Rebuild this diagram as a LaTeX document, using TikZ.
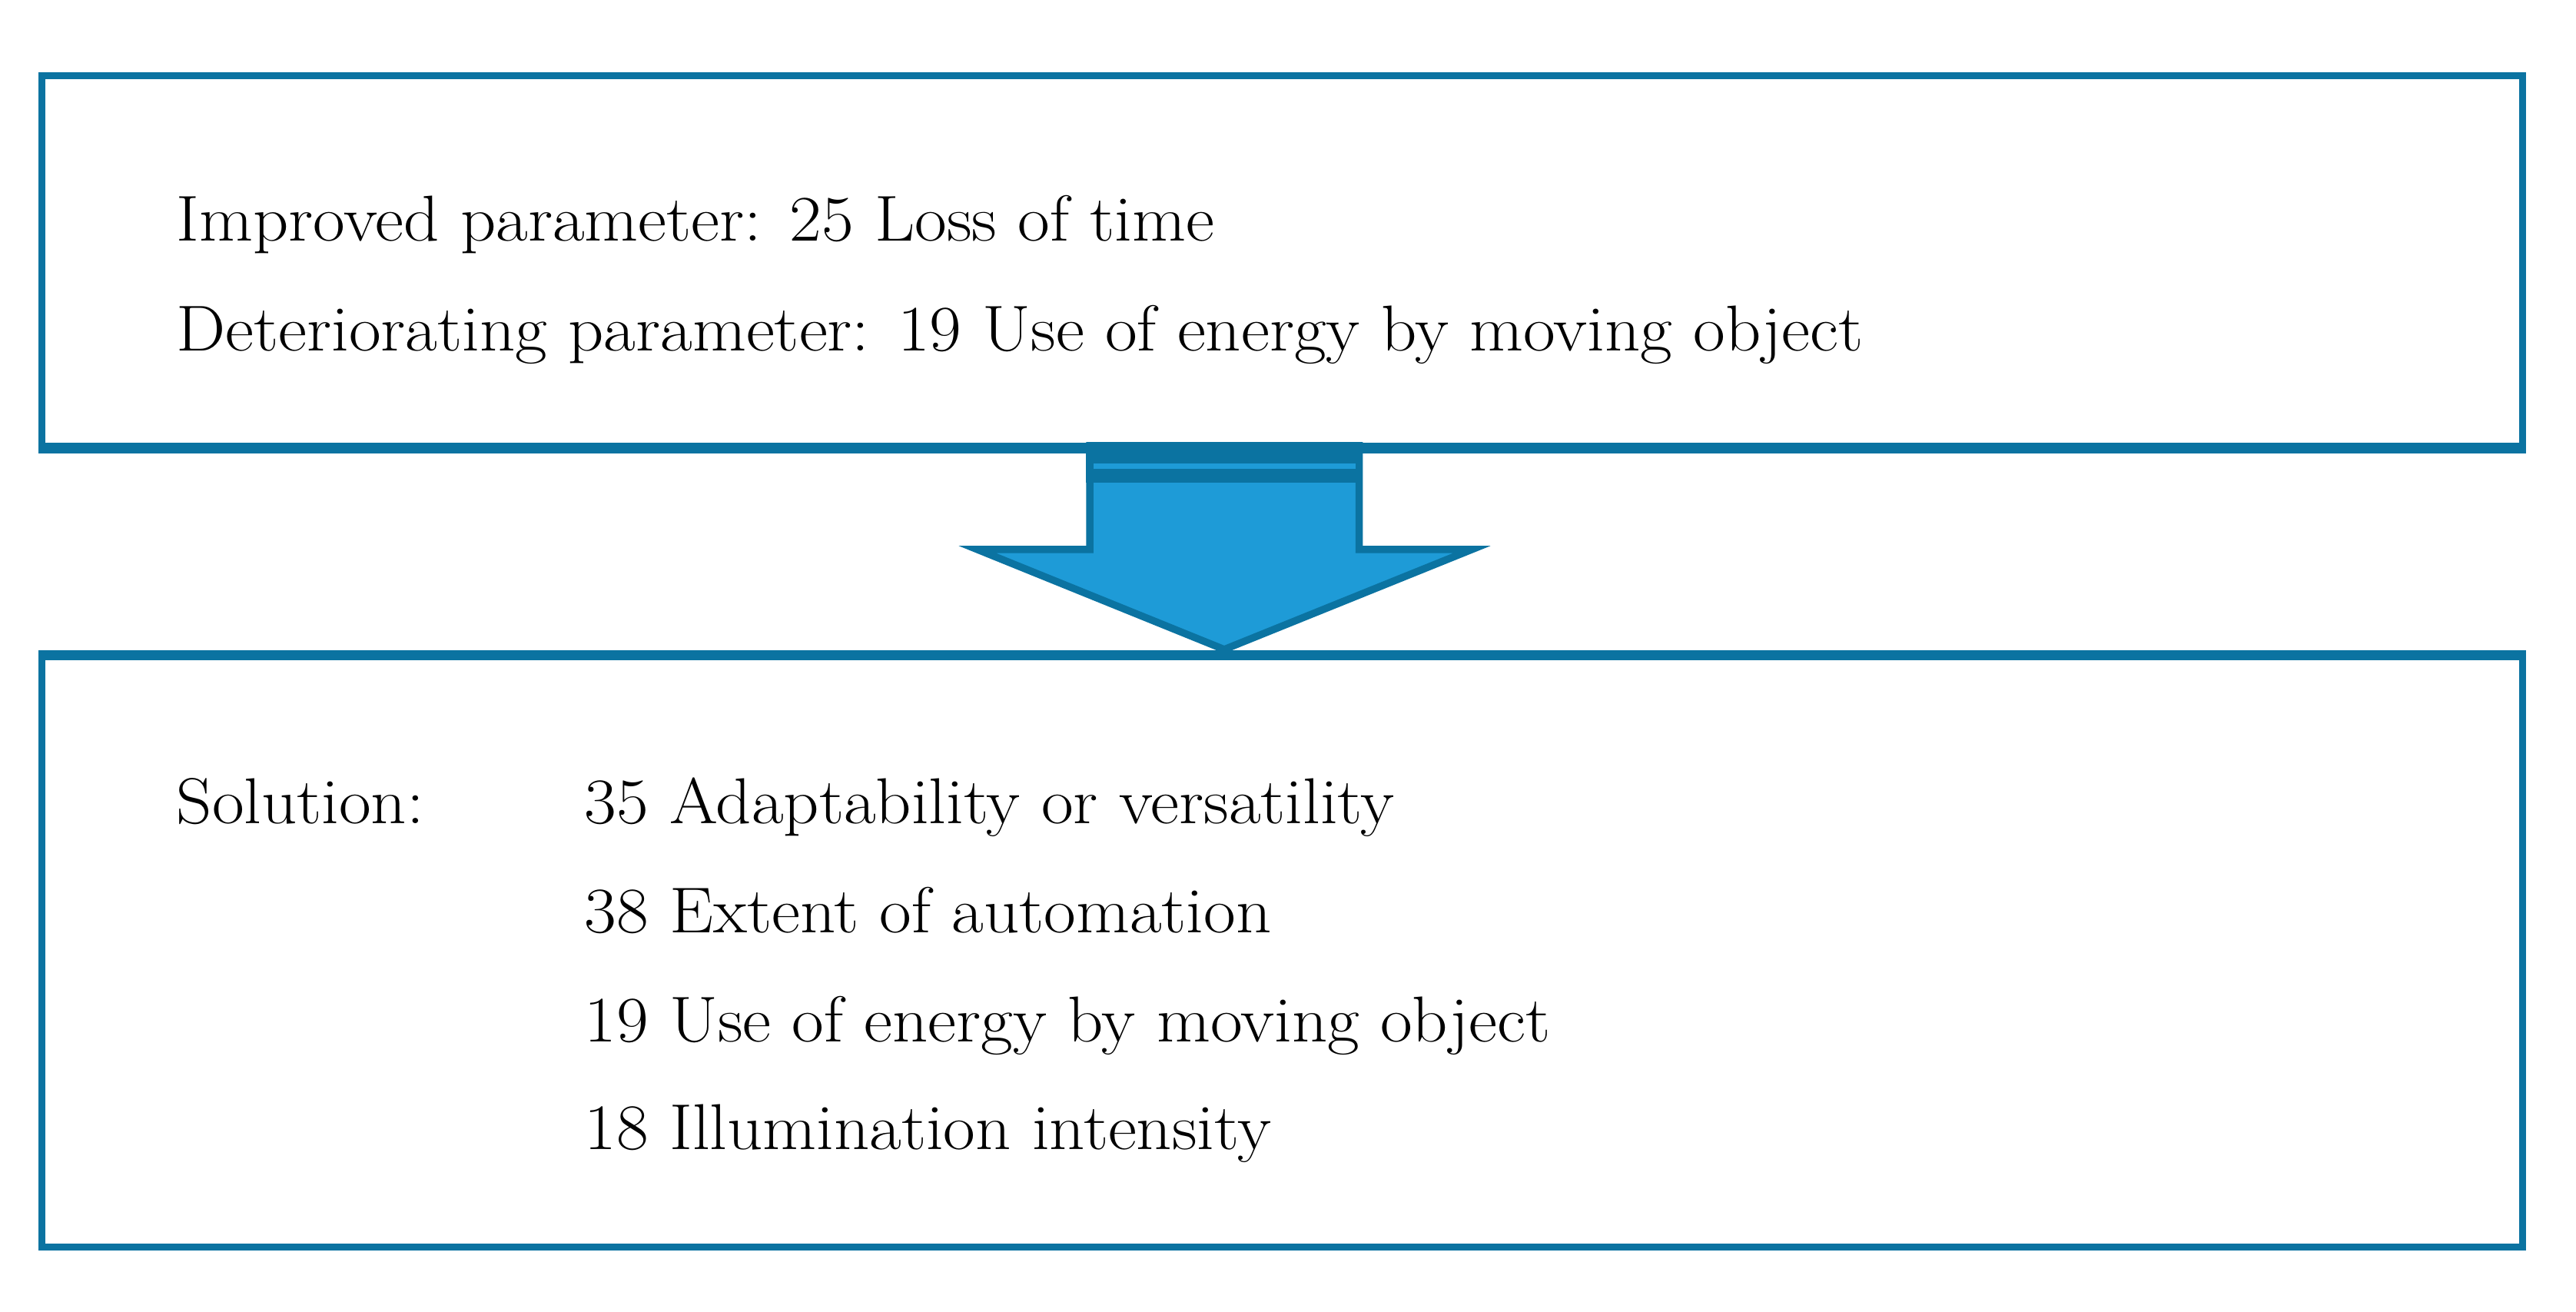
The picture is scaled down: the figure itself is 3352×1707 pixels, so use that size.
\documentclass[tikz,border=0pt]{standalone}
\usepackage{fontspec}
\usepackage{graphicx}
\definecolor{bdr}{HTML}{0B73A1}
\definecolor{fillb}{HTML}{1E9BD7}
\newcommand{\wtext}[1]{\scalebox{1.074}[1]{#1}}
\begin{document}
\begin{tikzpicture}[x=0.01cm,y=-0.01cm,
  box/.style={draw=bdr,line width=2.56pt,minimum width=32.26cm,inner sep=0pt},
  txt/.style={anchor=base west,inner sep=0pt,font=\fontsize{24}{28}\selectfont}]
\useasboundingbox (0,0) rectangle (3352,1707);
% boxes
\node[box,minimum height=4.82cm] (top) at (1668.5,339.5) {};
\node[box,minimum height=7.67cm] (bot) at (1668.5,1238.5) {};
% arrow between the boxes
\path[fill=fillb,draw=bdr,line width=2.7pt]
  (1418,580) -- (1418,715) -- (1272,715) -- (1593,845) -- (1915,715) -- (1768.5,715) -- (1768.5,580) -- cycle;
\fill[bdr] (1413,580) rectangle (1773,628);
\fill[fillb] (1423,603) rectangle (1764,610);
\draw[bdr,line width=2.56pt] (top.south west) -- (top.south east);
\draw[bdr,line width=2.56pt] (bot.north west) -- (bot.north east);
% texts
\node[txt] (t1) at (229,314) {\wtext{Improved parameter: 25 Loss of time}};
\node[txt] (t2) at (229,457) {\wtext{Deteriorating parameter: 19 Use of energy by moving object}};
\node[txt] (s0) at (229,1071) {\wtext{Solution:}};
\node[txt] (s1) at (760,1071) {\wtext{35 Adaptability or versatility}};
\node[txt] (s2) at (760,1213) {\wtext{38 Extent of automation}};
\node[txt] (s3) at (760,1355) {\wtext{19 Use of energy by moving object}};
\node[txt] (s4) at (760,1495) {\wtext{18 Illumination intensity}};
\end{tikzpicture}
\end{document}
